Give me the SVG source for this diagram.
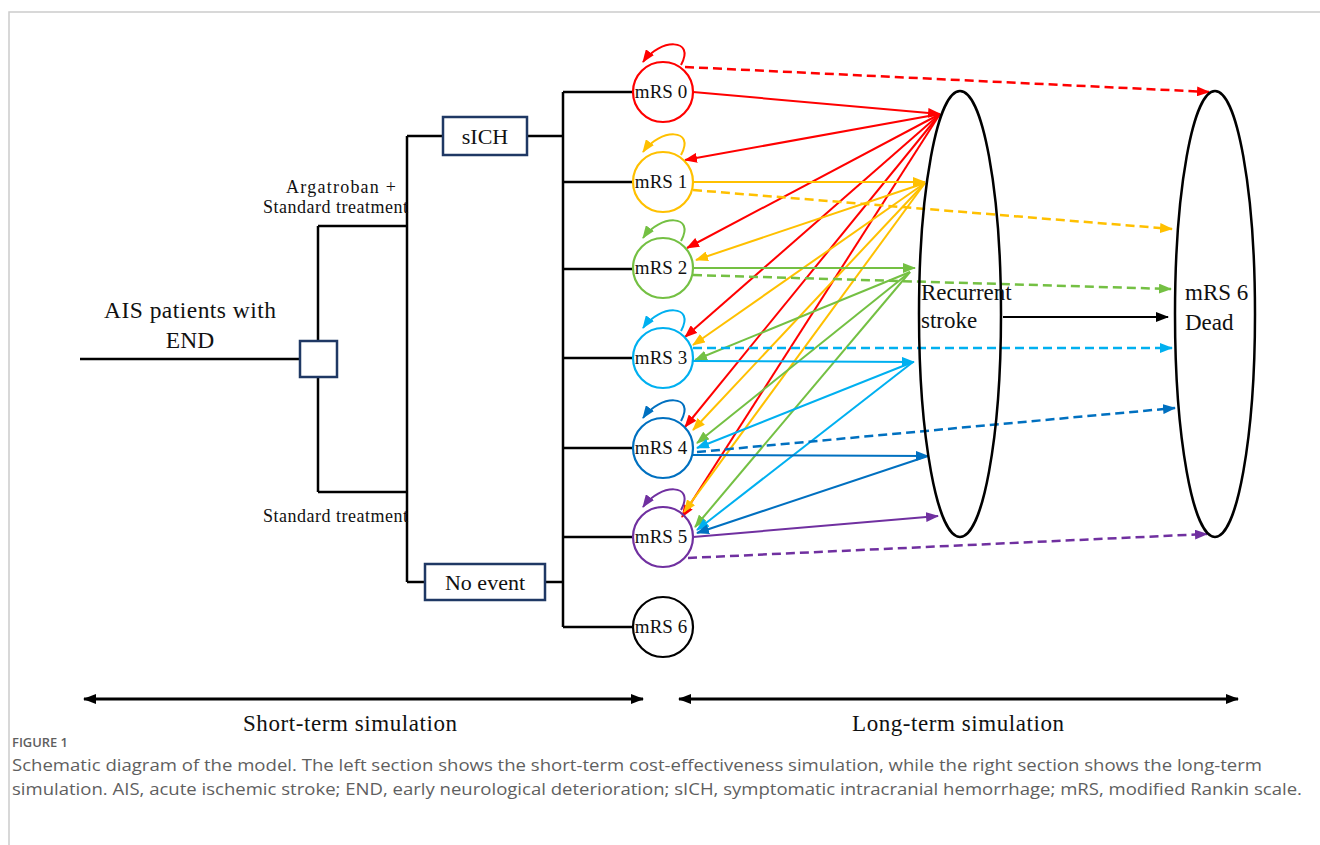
<svg xmlns="http://www.w3.org/2000/svg" width="1320" height="845" viewBox="0 0 1320 845">
<style>
.t{font-family:"Liberation Serif","Times New Roman",serif;fill:#111}
.ln{stroke:#000;stroke-width:2.5;fill:none}
.box{fill:#fff;stroke:#1f3864;stroke-width:2.5}
.a{fill:none;stroke-width:2}
.d{fill:none;stroke-width:2.5;stroke-dasharray:9 5}
.r{stroke:#ff0000}.o{stroke:#ffc000}.g{stroke:#74c043}.lb{stroke:#00b0f0}.db{stroke:#0070c0}.p{stroke:#7030a0}
.cap{font-family:"Open Sans","Liberation Sans",sans-serif;fill:#5f5f5f}
</style>
<defs>
<marker id="mr" viewBox="0 0 13 10" refX="12" refY="5" markerWidth="13" markerHeight="10" markerUnits="userSpaceOnUse" orient="auto"><path d="M0,0 L13,5 L0,10 z" fill="#ff0000"/></marker>
<marker id="mo" viewBox="0 0 13 10" refX="12" refY="5" markerWidth="13" markerHeight="10" markerUnits="userSpaceOnUse" orient="auto"><path d="M0,0 L13,5 L0,10 z" fill="#ffc000"/></marker>
<marker id="mg" viewBox="0 0 13 10" refX="12" refY="5" markerWidth="13" markerHeight="10" markerUnits="userSpaceOnUse" orient="auto"><path d="M0,0 L13,5 L0,10 z" fill="#74c043"/></marker>
<marker id="mlb" viewBox="0 0 13 10" refX="12" refY="5" markerWidth="13" markerHeight="10" markerUnits="userSpaceOnUse" orient="auto"><path d="M0,0 L13,5 L0,10 z" fill="#00b0f0"/></marker>
<marker id="mdb" viewBox="0 0 13 10" refX="12" refY="5" markerWidth="13" markerHeight="10" markerUnits="userSpaceOnUse" orient="auto"><path d="M0,0 L13,5 L0,10 z" fill="#0070c0"/></marker>
<marker id="mp" viewBox="0 0 13 10" refX="12" refY="5" markerWidth="13" markerHeight="10" markerUnits="userSpaceOnUse" orient="auto"><path d="M0,0 L13,5 L0,10 z" fill="#7030a0"/></marker>
<marker id="mk" viewBox="0 0 13 10" refX="12" refY="5" markerWidth="13" markerHeight="10" markerUnits="userSpaceOnUse" orient="auto-start-reverse"><path d="M0,0 L13,5 L0,10 z" fill="#000"/></marker>
</defs>
<rect width="1320" height="845" fill="#fff"/>
<path d="M9,845 L9,12 L1320,12" fill="none" stroke="#cccccc" stroke-width="1.5"/>

<g id="tree-lines">
<line class="ln" x1="80" y1="359" x2="300" y2="359"/>
<line class="ln" x1="318" y1="226" x2="318" y2="492"/>
<line class="ln" x1="318" y1="226" x2="407" y2="226"/>
<line class="ln" x1="318" y1="492" x2="407" y2="492"/>
<line class="ln" x1="407" y1="136" x2="407" y2="582"/>
<line class="ln" x1="407" y1="136" x2="443" y2="136"/>
<line class="ln" x1="527" y1="136" x2="563" y2="136"/>
<line class="ln" x1="407" y1="582" x2="425" y2="582"/>
<line class="ln" x1="545" y1="582" x2="563" y2="582"/>
<line class="ln" x1="563" y1="92" x2="563" y2="627"/>
<line class="ln" x1="563" y1="92" x2="633" y2="92"/>
<line class="ln" x1="563" y1="182" x2="633" y2="182"/>
<line class="ln" x1="563" y1="269" x2="633" y2="269"/>
<line class="ln" x1="563" y1="358" x2="633" y2="358"/>
<line class="ln" x1="563" y1="448" x2="633" y2="448"/>
<line class="ln" x1="563" y1="537" x2="633" y2="537"/>
<line class="ln" x1="563" y1="627" x2="633" y2="627"/>
</g>

<g id="start">
<text class="t" x="190" y="318" font-size="23.5" text-anchor="middle" textLength="172" lengthAdjust="spacing">AIS patients  with</text>
<text class="t" x="190" y="348" font-size="23.5" text-anchor="middle">END</text>
</g>
<g id="decision"><rect class="box" x="300" y="341" width="37" height="36"/></g>
<g id="arm-arg">
<text class="t" x="341" y="193" font-size="18" text-anchor="middle" textLength="110" lengthAdjust="spacing">Argatroban +</text>
<text class="t" x="408" y="213" font-size="18" text-anchor="end" textLength="145" lengthAdjust="spacing">Standard treatment</text>
</g>
<g id="arm-std">
<text class="t" x="408" y="522" font-size="18" text-anchor="end" textLength="145" lengthAdjust="spacing">Standard treatment</text>
</g>
<g id="sich"><rect class="box" x="443" y="117" width="84" height="38"/><text class="t" x="485" y="144" font-size="22" text-anchor="middle">sICH</text></g>
<g id="noevent"><rect class="box" x="425" y="564" width="120" height="36"/><text class="t" x="485" y="590" font-size="22" text-anchor="middle">No event</text></g>

<g id="connectors">
<!-- red -->
<path class="a r" d="M681,65 C696,38 660,38 643,62" marker-end="url(#mr)"/>
<line class="d r" x1="685" y1="67" x2="1209" y2="92" marker-end="url(#mr)"/>
<line class="a r" x1="693" y1="92" x2="940" y2="114" marker-end="url(#mr)"/>
<line class="a r" x1="940" y1="114" x2="685" y2="160" marker-end="url(#mr)"/>
<line class="a r" x1="940" y1="114" x2="687" y2="248" marker-end="url(#mr)"/>
<line class="a r" x1="940" y1="114" x2="685" y2="337" marker-end="url(#mr)"/>
<line class="a r" x1="940" y1="114" x2="685" y2="427" marker-end="url(#mr)"/>
<line class="a r" x1="940" y1="114" x2="682" y2="517" marker-end="url(#mr)"/>
<!-- orange -->
<path class="a o" d="M681,155 C696,128 660,128 643,152" marker-end="url(#mo)"/>
<line class="a o" x1="693" y1="182" x2="925" y2="182" marker-end="url(#mo)"/>
<line class="d o" x1="693" y1="190" x2="1172" y2="229" marker-end="url(#mo)"/>
<line class="a o" x1="925" y1="183" x2="696" y2="260" marker-end="url(#mo)"/>
<line class="a o" x1="925" y1="183" x2="693" y2="345" marker-end="url(#mo)"/>
<line class="a o" x1="925" y1="183" x2="693" y2="430" marker-end="url(#mo)"/>
<line class="a o" x1="925" y1="183" x2="684" y2="512" marker-end="url(#mo)"/>
<!-- green -->
<path class="a g" d="M681,241 C696,214 660,214 643,238" marker-end="url(#mg)"/>
<line class="a g" x1="693" y1="268" x2="915" y2="268" marker-end="url(#mg)"/>
<line class="d g" x1="693" y1="275" x2="1171" y2="289" marker-end="url(#mg)"/>
<line class="a g" x1="910" y1="272" x2="695" y2="360" marker-end="url(#mg)"/>
<line class="a g" x1="910" y1="272" x2="697" y2="443" marker-end="url(#mg)"/>
<line class="a g" x1="910" y1="272" x2="695" y2="527" marker-end="url(#mg)"/>
<!-- light blue -->
<path class="a lb" d="M681,331 C696,304 660,304 643,328" marker-end="url(#mlb)"/>
<line class="d lb" x1="693" y1="348" x2="1172" y2="348" marker-end="url(#mlb)"/>
<line class="a lb" x1="693" y1="361" x2="914" y2="362" marker-end="url(#mlb)"/>
<line class="a lb" x1="913" y1="362" x2="697" y2="448" marker-end="url(#mlb)"/>
<line class="a lb" x1="913" y1="362" x2="697" y2="530" marker-end="url(#mlb)"/>
<!-- dark blue -->
<path class="a db" d="M681,421 C696,394 660,394 643,418" marker-end="url(#mdb)"/>
<line class="d db" x1="697" y1="452" x2="1175" y2="408" marker-end="url(#mdb)"/>
<line class="a db" x1="693" y1="455" x2="928" y2="456" marker-end="url(#mdb)"/>
<line class="a db" x1="928" y1="456" x2="697" y2="533" marker-end="url(#mdb)"/>
<!-- purple -->
<path class="a p" d="M681,510 C696,483 660,483 643,507" marker-end="url(#mp)"/>
<line class="a p" x1="693" y1="537" x2="938" y2="516" marker-end="url(#mp)"/>
<line class="d p" x1="688" y1="558" x2="1207" y2="534" marker-end="url(#mp)"/>
<!-- black -->
<line x1="1003" y1="317" x2="1168" y2="317" stroke="#000" stroke-width="2" marker-end="url(#mk)"/>
</g>

<g id="mrs0"><circle cx="663" cy="92" r="30" fill="none" stroke="#ff0000" stroke-width="2.2"/><text class="t" x="661" y="98" font-size="19" text-anchor="middle">mRS 0</text></g>
<g id="mrs1"><circle cx="663" cy="182" r="30" fill="none" stroke="#ffc000" stroke-width="2.2"/><text class="t" x="661" y="188" font-size="19" text-anchor="middle">mRS 1</text></g>
<g id="mrs2"><circle cx="663" cy="268" r="30" fill="none" stroke="#74c043" stroke-width="2.2"/><text class="t" x="661" y="274" font-size="19" text-anchor="middle">mRS 2</text></g>
<g id="mrs3"><circle cx="663" cy="358" r="30" fill="none" stroke="#00b0f0" stroke-width="2.2"/><text class="t" x="661" y="364" font-size="19" text-anchor="middle">mRS 3</text></g>
<g id="mrs4"><circle cx="663" cy="448" r="30" fill="none" stroke="#0070c0" stroke-width="2.2"/><text class="t" x="661" y="454" font-size="19" text-anchor="middle">mRS 4</text></g>
<g id="mrs5"><circle cx="663" cy="537" r="30" fill="none" stroke="#7030a0" stroke-width="2.2"/><text class="t" x="661" y="543" font-size="19" text-anchor="middle">mRS 5</text></g>
<g id="mrs6"><circle cx="663" cy="627" r="30" fill="none" stroke="#000" stroke-width="2.2"/><text class="t" x="661" y="633" font-size="19" text-anchor="middle">mRS 6</text></g>

<g id="recurrent"><ellipse cx="960" cy="314" rx="41" ry="223" fill="none" stroke="#000" stroke-width="2.5"/>
<text class="t" x="921" y="300" font-size="23">Recurrent</text><text class="t" x="921" y="328" font-size="23">stroke</text></g>
<g id="dead"><ellipse cx="1215" cy="314" rx="40" ry="223" fill="none" stroke="#000" stroke-width="2.5"/>
<text class="t" x="1185" y="300" font-size="23">mRS 6</text><text class="t" x="1185" y="330" font-size="23">Dead</text></g>

<g id="timeline">
<line x1="84" y1="699" x2="643" y2="699" stroke="#000" stroke-width="3" marker-start="url(#mk)" marker-end="url(#mk)"/>
<line x1="679" y1="699" x2="1238" y2="699" stroke="#000" stroke-width="3" marker-start="url(#mk)" marker-end="url(#mk)"/>
<text class="t" x="350" y="731" font-size="23" text-anchor="middle" textLength="214" lengthAdjust="spacing">Short-term  simulation</text>
<text class="t" x="958" y="731" font-size="23" text-anchor="middle" textLength="212" lengthAdjust="spacing">Long-term  simulation</text>
</g>

<g id="caption">
<text class="cap" x="12" y="747" font-size="13" font-weight="600" textLength="56" lengthAdjust="spacingAndGlyphs">FIGURE 1</text>
<text class="cap" x="12" y="771" font-size="16" textLength="1250" lengthAdjust="spacingAndGlyphs">Schematic diagram of the model. The left section shows the short-term cost-effectiveness simulation, while the right section shows the long-term</text>
<text class="cap" x="12" y="795" font-size="16" textLength="1290" lengthAdjust="spacingAndGlyphs">simulation. AIS, acute ischemic stroke; END, early neurological deterioration; sICH, symptomatic intracranial hemorrhage; mRS, modified Rankin scale.</text>
</g>
</svg>
